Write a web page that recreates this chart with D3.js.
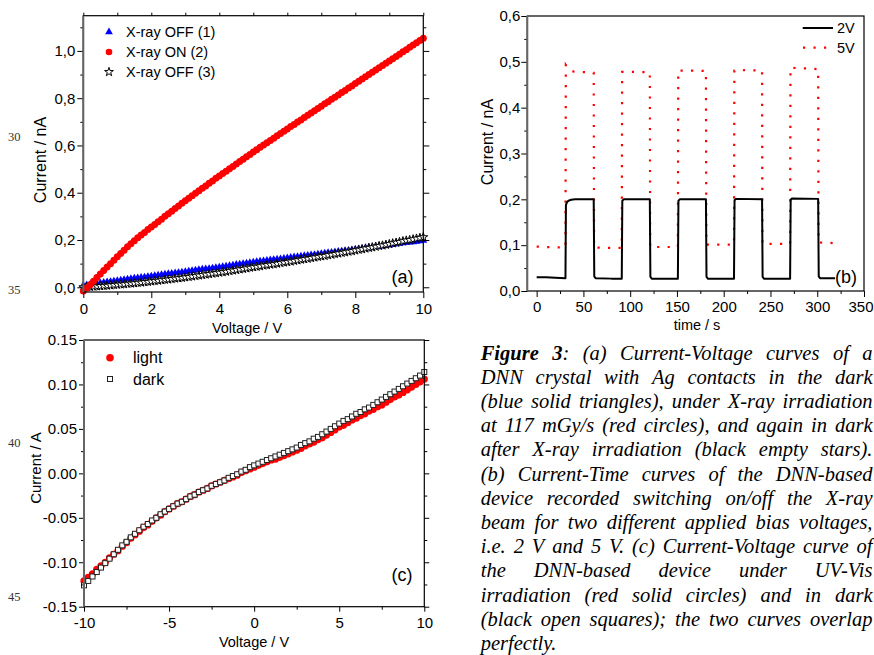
<!DOCTYPE html>
<html><head><meta charset="utf-8">
<script src="https://cdn.jsdelivr.net/npm/d3@7"></script>
<style>
html,body{margin:0;padding:0;background:#fff;}
svg{display:block;}
</style></head><body>
<svg id="fig" width="874" height="655"></svg>
<script>
// ---------- Panel (a): I–V curves, 0–10 V sweep in 0.1 V steps ----------
const voltageA = d3.range(101).map(i => +(i * 0.1).toFixed(1));
const xrayOff1 = [
  0.008,0.010,0.012,0.014,0.016,0.018,0.020,0.022,0.024,0.026,
  0.028,0.030,0.032,0.034,0.036,0.038,0.039,0.041,0.043,0.045,
  0.047,0.049,0.051,0.053,0.055,0.057,0.058,0.060,0.062,0.064,
  0.066,0.068,0.070,0.072,0.074,0.076,0.077,0.079,0.081,0.083,
  0.085,0.087,0.089,0.091,0.093,0.096,0.098,0.100,0.102,0.104,
  0.106,0.108,0.110,0.111,0.113,0.115,0.117,0.119,0.120,0.122,
  0.124,0.126,0.128,0.129,0.131,0.133,0.135,0.137,0.138,0.140,
  0.142,0.144,0.146,0.147,0.149,0.151,0.153,0.155,0.156,0.158,
  0.160,0.162,0.164,0.166,0.168,0.170,0.171,0.173,0.175,0.177,
  0.179,0.181,0.183,0.185,0.187,0.189,0.190,0.192,0.194,0.196,
  0.198];
const xrayOn2 = [
  -0.016,-0.003,0.011,0.026,0.041,0.056,0.071,0.086,0.100,0.114,
  0.129,0.143,0.157,0.171,0.184,0.197,0.209,0.221,0.232,0.244,
  0.255,0.266,0.277,0.288,0.300,0.311,0.322,0.333,0.344,0.355,
  0.366,0.377,0.387,0.398,0.408,0.419,0.429,0.440,0.450,0.461,
  0.471,0.481,0.491,0.501,0.511,0.522,0.532,0.542,0.552,0.562,
  0.572,0.582,0.592,0.602,0.611,0.621,0.631,0.641,0.651,0.660,
  0.670,0.680,0.689,0.699,0.708,0.718,0.728,0.737,0.747,0.756,
  0.766,0.776,0.785,0.795,0.804,0.814,0.824,0.833,0.843,0.852,
  0.862,0.872,0.881,0.891,0.900,0.910,0.919,0.929,0.938,0.948,
  0.957,0.967,0.976,0.986,0.996,1.005,1.015,1.025,1.035,1.044,
  1.054];
const xrayOff3 = [
  0.000,0.001,0.002,0.003,0.004,0.005,0.006,0.007,0.008,0.010,
  0.011,0.012,0.013,0.015,0.016,0.017,0.019,0.020,0.022,0.023,
  0.025,0.027,0.028,0.030,0.032,0.033,0.035,0.037,0.038,0.040,
  0.042,0.044,0.046,0.048,0.050,0.052,0.054,0.056,0.058,0.060,
  0.062,0.064,0.066,0.069,0.071,0.073,0.076,0.078,0.080,0.083,
  0.085,0.087,0.089,0.092,0.094,0.096,0.098,0.100,0.103,0.105,
  0.107,0.109,0.112,0.114,0.117,0.119,0.121,0.124,0.126,0.129,
  0.131,0.133,0.136,0.138,0.141,0.143,0.146,0.148,0.151,0.153,
  0.156,0.159,0.161,0.164,0.167,0.169,0.172,0.175,0.177,0.180,
  0.183,0.186,0.189,0.192,0.195,0.198,0.200,0.203,0.206,0.209,
  0.212];
const legendA = ["X-ray OFF (1)", "X-ray ON (2)", "X-ray OFF (3)"];
const ticksAx = [0, 2, 4, 6, 8, 10];
const minorAx = [1, 3, 5, 7, 9];
const ticksAy = [0, 0.2, 0.4, 0.6, 0.8, 1.0];
const minorAy = [0.1, 0.3, 0.5, 0.7, 0.9, 1.1];

// ---------- Panel (b): current vs time, beam switched on/off ----------
const time2V = [0,10,20,30.8,31.3,32.5,34,37,41,50,61,61.6,63,80,91,91.6,93,121,121.6,123,140,151,151.6,153,181,181.6,183,200,211,211.6,213,241,241.6,243,260,271,271.6,273,301,301.6,303,319];
const current2V = [0.030,0.030,0.029,0.028,0.188,0.194,0.197,0.199,0.200,0.200,0.200,0.032,0.028,0.027,0.027,0.197,0.200,0.200,0.031,0.027,0.027,0.027,0.197,0.200,0.200,0.031,0.027,0.027,0.027,0.198,0.201,0.200,0.031,0.027,0.027,0.027,0.199,0.202,0.201,0.032,0.028,0.028];
const time5V = [0,10,20,30.8,31.2,34,38,45,55,61,61.4,75,91,91.4,105,121,121.4,135,151,151.4,165,181,181.4,195,211,211.4,225,241,241.4,255,271,271.4,285,301,301.4,312,325];
const current5V = [0.097,0.096,0.095,0.095,0.493,0.485,0.479,0.478,0.477,0.476,0.095,0.094,0.094,0.478,0.478,0.477,0.096,0.096,0.096,0.481,0.481,0.480,0.101,0.101,0.101,0.481,0.482,0.481,0.103,0.103,0.103,0.487,0.486,0.484,0.106,0.105,0.104];
const legendB = ["2V", "5V"];
const ticksBx = [0, 50, 100, 150, 200, 250, 300, 350];
const minorBx = [25, 75, 125, 175, 225, 275, 325];
const ticksBy = [0, 0.1, 0.2, 0.3, 0.4, 0.5, 0.6];
const minorBy = [0.05, 0.15, 0.25, 0.35, 0.45, 0.55];

// ---------- Panel (c): I–V under UV-Vis light and in dark, -10…10 V ----------
const voltageC = d3.range(81).map(i => -10 + i * 0.25);
const lightC = [
  -0.121,-0.117,-0.113,-0.108,-0.104,-0.100,-0.095,-0.091,-0.087,-0.082,
  -0.078,-0.073,-0.069,-0.065,-0.061,-0.058,-0.054,-0.050,-0.047,-0.043,
  -0.040,-0.037,-0.034,-0.032,-0.029,-0.026,-0.024,-0.021,-0.019,-0.017,
  -0.014,-0.012,-0.010,-0.008,-0.006,-0.004,-0.002,0.001,0.003,0.005,
  0.007,0.009,0.011,0.013,0.015,0.016,0.018,0.020,0.022,0.024,
  0.026,0.028,0.031,0.033,0.035,0.038,0.040,0.043,0.046,0.049,
  0.052,0.054,0.057,0.060,0.062,0.065,0.067,0.070,0.072,0.075,
  0.077,0.080,0.083,0.086,0.088,0.091,0.094,0.097,0.100,0.103,
  0.106];
const darkC = [
  -0.126,-0.121,-0.116,-0.111,-0.106,-0.101,-0.096,-0.091,-0.086,-0.081,
  -0.077,-0.072,-0.068,-0.064,-0.060,-0.057,-0.053,-0.050,-0.046,-0.043,
  -0.040,-0.037,-0.034,-0.032,-0.029,-0.026,-0.024,-0.021,-0.019,-0.017,
  -0.014,-0.012,-0.010,-0.008,-0.005,-0.003,-0.001,0.002,0.004,0.007,
  0.009,0.011,0.013,0.015,0.017,0.019,0.021,0.023,0.025,0.027,
  0.029,0.032,0.034,0.036,0.039,0.041,0.044,0.047,0.050,0.053,
  0.056,0.059,0.061,0.064,0.067,0.069,0.072,0.074,0.077,0.080,
  0.083,0.086,0.089,0.092,0.095,0.098,0.101,0.104,0.107,0.110,
  0.114];
const legendC = ["light", "dark"];
const ticksCx = [-10, -5, 0, 5, 10];
const minorCx = [-7.5, -2.5, 2.5, 7.5];
const ticksCy = [-0.15, -0.10, -0.05, 0, 0.05, 0.10, 0.15];
const minorCy = [-0.125, -0.075, -0.025, 0.025, 0.075, 0.125];

// ---------- Caption ----------
const captionLines = [
  "Figure 3: (a) Current-Voltage curves of a",
  "DNN crystal with Ag contacts in the dark",
  "(blue solid triangles), under X-ray irradiation",
  "at 117 mGy/s (red circles), and again in dark",
  "after X-ray irradiation (black empty stars).",
  "(b) Current-Time curves of the DNN-based",
  "device recorded switching on/off the X-ray",
  "beam for two different applied bias voltages,",
  "i.e. 2 V and 5 V. (c) Current-Voltage curve of",
  "the DNN-based device under UV-Vis",
  "irradiation (red solid circles) and in dark",
  "(black open squares); the two curves overlap",
  "perfectly."
];
const lineNumbers = [{n: "30", y: 137}, {n: "35", y: 290}, {n: "40", y: 443}, {n: "45", y: 597}];

// ======================================================================
const svg = d3.select("#fig");
const SANS = "'Liberation Sans', Arial, sans-serif";
const SERIF = "'Liberation Serif', 'Times New Roman', serif";
// tick formats: comma decimals for (a)/(b), plain hyphen minus for (c)
const commaFmt = d => d3.format(".1f")(d).replace(".", ",");
const intFmt = d => String(d);
const dotFmt = d => d.toFixed(2);

function styleAxis(g, size) {
  g.select(".domain").remove();
  g.selectAll(".tick line").attr("stroke", "#000").attr("stroke-width", 1);
  g.selectAll(".tick text").attr("font-family", SANS).attr("font-size", size).attr("fill", "#000");
}

function frame(x, y, opt) {
  const [x0, x1] = x.range(), [y0, y1] = y.range();
  const g = svg.append("g");
  const axes = [
    ["bottom", d3.axisBottom, y0, x, opt.xt, opt.xm, opt.xf, opt.xpad],
    ["left", d3.axisLeft, x0, y, opt.yt, opt.ym, opt.yf, opt.ypad]
  ];
  axes.forEach(([side, fn, pos, sc, tv, mv, fmt, pad]) => {
    const tr = side === "bottom" ? `translate(0,${pos})` : `translate(${pos},0)`;
    g.append("g").attr("transform", tr)
      .call(fn(sc).tickValues(mv).tickSize(3).tickFormat(""))
      .call(a => styleAxis(a, 15));
    const major = g.append("g").attr("class", "major-" + side).attr("transform", tr)
      .call(fn(sc).tickValues(tv).tickSize(opt.major).tickPadding(pad).tickFormat(fmt))
      .call(a => styleAxis(a, 15));
    // keep the last bottom label inside the page edge
    if (side === "bottom" && opt.clampRight) {
      major.selectAll(".tick text").filter(d => d === tv[tv.length - 1])
        .attr("text-anchor", "end").attr("x", opt.clampRight - sc(tv[tv.length - 1]));
    }
  });
  if (opt.mirror) {
    g.append("g").attr("transform", `translate(${x1},0)`)
      .call(d3.axisRight(y).tickValues(opt.yt).tickSize(opt.major).tickFormat(""))
      .call(a => styleAxis(a, 15));
    g.append("g").attr("transform", `translate(${x1},0)`)
      .call(d3.axisRight(y).tickValues(opt.ym).tickSize(3).tickFormat(""))
      .call(a => styleAxis(a, 15));
  }
  if (opt.top) {
    g.append("g").attr("transform", `translate(0,${y1})`)
      .call(d3.axisTop(x).tickValues(opt.xt.concat(opt.xm)).tickSize(3).tickFormat(""))
      .call(a => styleAxis(a, 15));
  }
  g.append("rect").attr("x", x0).attr("y", y1).attr("width", x1 - x0).attr("height", y0 - y1)
    .attr("fill", "none").attr("stroke", "#000").attr("stroke-width", 1.2);
  g.append("line").attr("x1", x0).attr("x2", x0).attr("y1", y1).attr("y2", y0)
    .attr("stroke", "#666").attr("stroke-width", 2);
  return g;
}

function label(text, x, y, size, rotate) {
  svg.append("text").attr("transform", `translate(${x},${y})` + (rotate ? " rotate(-90)" : ""))
    .attr("text-anchor", "middle").attr("dominant-baseline", "central")
    .attr("font-family", SANS).attr("font-size", size).attr("fill", "#000").text(text);
}

// ---------------- Panel (a) ----------------
const xA = d3.scaleLinear().domain([0, 10]).range([83.3, 423.3]);
const yA = d3.scaleLinear().domain([-0.02, 1.149]).range([292, 15.7]);
const gA = svg.append("g");
const triangle = d3.symbol().type(d3.symbolTriangle).size(26);
const star = d3.symbol().type(d3.symbolStar).size(24);

gA.selectAll("path.off1").data(voltageA).join("path")
  .attr("d", triangle).attr("transform", (d, i) => `translate(${xA(d)},${yA(xrayOff1[i])})`)
  .attr("fill", "#0000ff");
gA.selectAll("path.off3").data(voltageA).join("path")
  .attr("d", star).attr("transform", (d, i) => `translate(${xA(d)},${yA(xrayOff3[i])})`)
  .attr("fill", "#fff").attr("stroke", "#000").attr("stroke-width", 1);
gA.selectAll("circle.on2").data(voltageA).join("circle")
  .attr("cx", d => xA(d)).attr("cy", (d, i) => yA(xrayOn2[i])).attr("r", 3.5)
  .attr("fill", "#ff0000");

frame(xA, yA, {xt: ticksAx, xm: minorAx, yt: ticksAy, ym: minorAy, xf: intFmt, yf: commaFmt,
  major: 6, xpad: 5, ypad: 2, mirror: true, top: true});

const legA = svg.append("g").attr("font-family", SANS).attr("font-size", 14.5);
const legAy = [32, 52, 72];
legA.append("path").attr("d", triangle).attr("transform", `translate(109,${legAy[0]})`).attr("fill", "#0000ff");
legA.append("circle").attr("cx", 109).attr("cy", legAy[1]).attr("r", 3.3).attr("fill", "#ff0000");
legA.append("path").attr("d", star).attr("transform", `translate(109,${legAy[2]})`)
  .attr("fill", "#fff").attr("stroke", "#000").attr("stroke-width", 1);
legendA.forEach((t, i) => legA.append("text").attr("x", 126).attr("y", legAy[i])
  .attr("dominant-baseline", "central").text(t));
label("(a)", 402.5, 277, 18);
label("Voltage / V", 247, 328, 14.5);
label("Current / nA", 40, 160, 16, true);

// ---------------- Panel (b) ----------------
const xB = d3.scaleLinear().domain([-10, 350]).range([527.3, 864]);
const yB = d3.scaleLinear().domain([0, 0.6]).range([291, 16]);
const lineB = (ts, vs) => d3.line().x((d, i) => xB(ts[i])).y((d, i) => yB(vs[i]))(ts);
svg.append("path").attr("d", lineB(time5V, current5V)).attr("fill", "none")
  .attr("stroke", "#ff0000").attr("stroke-width", 2.2).attr("stroke-dasharray", "2.2,8.3");
svg.append("path").attr("d", lineB(time2V, current2V)).attr("fill", "none")
  .attr("stroke", "#000").attr("stroke-width", 2).attr("stroke-linejoin", "round");
frame(xB, yB, {xt: ticksBx, xm: minorBx, yt: ticksBy, ym: minorBy, xf: intFmt, yf: commaFmt,
  major: 6, xpad: 4, ypad: 1, mirror: false, top: false, clampRight: 873});

const legB = svg.append("g").attr("font-family", SANS).attr("font-size", 14.5);
legB.append("line").attr("x1", 802.7).attr("x2", 833).attr("y1", 28).attr("y2", 28)
  .attr("stroke", "#000").attr("stroke-width", 2);
legB.append("line").attr("x1", 803).attr("x2", 833).attr("y1", 47.7).attr("y2", 47.7)
  .attr("stroke", "#ff0000").attr("stroke-width", 2.2).attr("stroke-dasharray", "2.2,8.3");
legendB.forEach((t, i) => legB.append("text").attr("x", 837).attr("y", [28, 47.7][i])
  .attr("dominant-baseline", "central").text(t));
label("(b)", 846, 277, 18);
label("time / s", 697, 325, 14.5);
label("Current / nA", 487, 142, 16, true);

// ---------------- Panel (c) ----------------
const xC = d3.scaleLinear().domain([-10, 10]).range([84, 424.3]);
const yC = d3.scaleLinear().domain([-0.15, 0.15]).range([606.7, 340]);
const gC = svg.append("g");
gC.selectAll("circle").data(voltageC).join("circle")
  .attr("cx", d => xC(d)).attr("cy", (d, i) => yC(lightC[i])).attr("r", 3.6).attr("fill", "#ff0000");
gC.selectAll("rect").data(voltageC).join("rect")
  .attr("x", d => xC(d) - 2.5).attr("y", (d, i) => yC(darkC[i]) - 2.5)
  .attr("width", 5).attr("height", 5).attr("fill", "#fff").attr("stroke", "#222").attr("stroke-width", 1);
frame(xC, yC, {xt: ticksCx, xm: minorCx, yt: ticksCy, ym: minorCy, xf: intFmt, yf: dotFmt,
  major: 5, xpad: 6, ypad: 2, mirror: true, top: false});

const legC = svg.append("g").attr("font-family", SANS).attr("font-size", 16);
legC.append("circle").attr("cx", 110).attr("cy", 357.7).attr("r", 3.8).attr("fill", "#ff0000");
legC.append("rect").attr("x", 107.5).attr("y", 376.5).attr("width", 5).attr("height", 5)
  .attr("fill", "#fff").attr("stroke", "#222");
legendC.forEach((t, i) => legC.append("text").attr("x", 133).attr("y", [357.7, 379][i])
  .attr("dominant-baseline", "central").text(t));
label("(c)", 402, 575, 18);
label("Voltage / V", 254, 641.5, 14.5);
label("Current / A", 35, 468, 15, true);

// ---------------- Line numbers ----------------
lineNumbers.forEach(l => svg.append("text").attr("x", 8).attr("y", l.y)
  .attr("dominant-baseline", "central").attr("font-family", SERIF).attr("font-size", 12.5)
  .attr("fill", "#333").text(l.n));

// ---------------- Caption (justified) ----------------
const capL = 480.7, capR = 872.5, capSize = 20.5;
const cap = svg.append("g").attr("font-family", SERIF).attr("font-size", capSize)
  .attr("font-style", "italic").attr("fill", "#000");
captionLines.forEach((line, li) => {
  const y = 359.5 + li * 24.2;
  const words = line.split(" ");
  const nodes = words.map((w, wi) => {
    const t = cap.append("text").attr("y", y);
    if (li === 0 && wi < 2) {
      if (wi === 0) t.append("tspan").attr("font-weight", "bold").text("Figure");
      else { t.append("tspan").attr("font-weight", "bold").text("3"); t.append("tspan").text(":"); }
    } else t.text(w);
    return t;
  });
  const widths = nodes.map(n => n.node().getComputedTextLength());
  const last = li === captionLines.length - 1;
  const gap = last ? capSize * 0.25 : (capR - capL - d3.sum(widths)) / (words.length - 1);
  let x = capL;
  nodes.forEach((n, i) => { n.attr("x", x); x += widths[i] + gap; });
});
</script>
</body></html>
